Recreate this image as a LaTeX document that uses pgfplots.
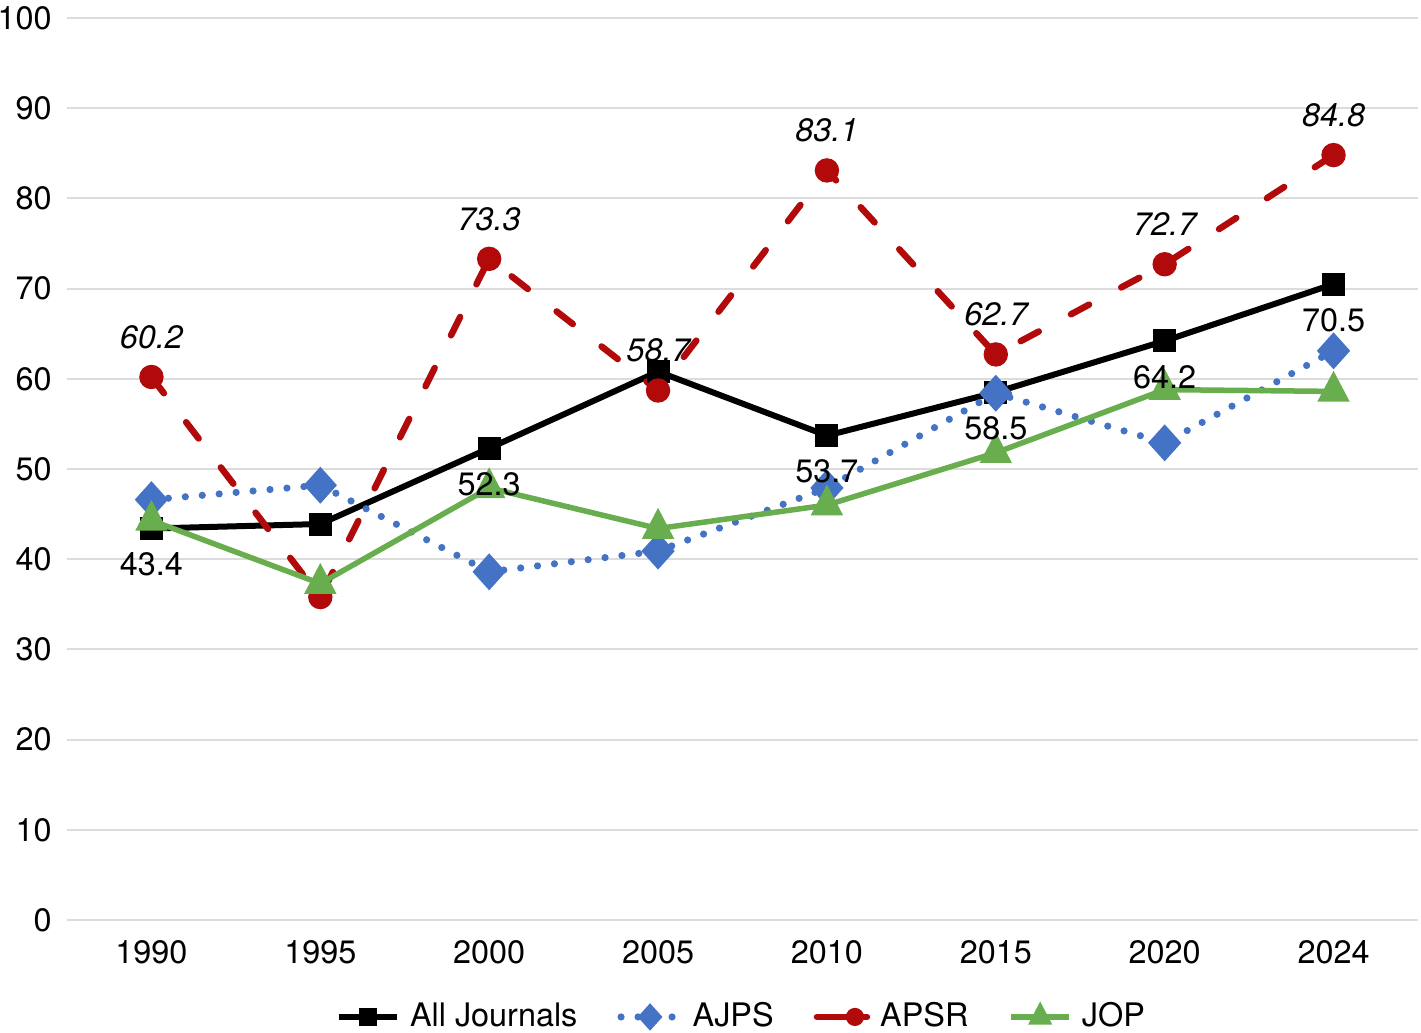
\documentclass[border=0pt]{standalone}
\usepackage{fontspec}
\setmainfont{TeX Gyre Heros}
\usepackage{pgfplots}
\pgfplotsset{compat=1.18}
\definecolor{cBlue}{RGB}{68,114,196}
\definecolor{cRed}{RGB}{178,10,10}
\definecolor{cGreen}{RGB}{104,173,78}
\definecolor{cGrid}{RGB}{220,220,220}
\begin{document}
\fontsize{16.2}{19.4}\selectfont
\begin{tikzpicture}
\begin{axis}[
  at={(0,0)}, anchor=south west,
  scale only axis, width=675.5pt, height=451pt,
  xmin=-0.5, xmax=7.5, ymin=0, ymax=100,
  xtick={0,...,7},
  xticklabels={1990,1995,2000,2005,2010,2015,2020,2024},
  ytick={0,10,...,100},
  axis line style={draw=none},
  major tick length=0pt,
  ymajorgrids, grid style={cGrid, line width=1pt},
  /pgf/number format/assume math mode=true,
  yticklabel style={anchor=east, inner sep=0pt, xshift=-7.5pt},
  xticklabel style={anchor=north, inner sep=0pt, yshift=-10pt},
  legend columns=-1,
  legend style={at={(0.5,-0.1075)}, anchor=center, draw=none, fill=none,
    /tikz/every odd column/.append style={column sep=3pt},
    /tikz/every even column/.append style={column sep=18pt}},
  legend image code/.code={\draw[mark repeat=2, mark phase=2, every mark/.append style={scale=0.72}]
     plot coordinates {(0pt,0pt) (14.5pt,0pt) (29pt,0pt)};},
  clip=false,
]
% All Journals
\addplot[black, line width=3pt, mark=square*, mark size=5.25pt,
  mark options={solid, line width=1pt, fill=black}]
  coordinates {(0,43.4) (1,43.9) (2,52.3) (3,60.8) (4,53.7) (5,58.5) (6,64.2) (7,70.5)};
\addlegendentry{All Journals}
% AJPS
\addplot[cBlue, line width=3.6pt, line cap=round, dash pattern=on 0pt off 8.5pt,
  mark=diamond*, mark size=8.5pt,
  mark options={solid, line width=1pt, fill=cBlue, xscale=1.2}]
  coordinates {(0,46.6) (1,48.2) (2,38.6) (3,40.9) (4,47.9) (5,58.4) (6,52.9) (7,63.1)};
\addlegendentry{AJPS}
% APSR
\addplot[cRed, line width=3.25pt, line cap=round, dash pattern=on 10.25pt off 18.25pt,
  mark=*, mark size=5.6pt,
  mark options={solid, line width=1pt, fill=cRed},
  legend image code/.code={\draw[solid, mark repeat=2, mark phase=2, every mark/.append style={scale=0.72}]
     plot coordinates {(0pt,0pt) (19pt,0pt) (25pt,0pt)};}]
  coordinates {(0,60.2) (1,35.8) (2,73.3) (3,58.7) (4,83.1) (5,62.7) (6,72.7) (7,84.8)};
\addlegendentry{APSR}
% JOP
\addplot[cGreen, line width=2.75pt, mark=triangle*, mark size=8.4pt,
  mark options={solid, line width=1pt, fill=cGreen, yscale=1.1}]
  coordinates {(0,44.3) (1,37.3) (2,47.9) (3,43.4) (4,46.0) (5,51.8) (6,58.8) (7,58.6)};
\addlegendentry{JOP}
% labels APSR
\addplot[draw=none, mark=none, forget plot, nodes near coords, point meta=explicit symbolic,
  every node near coord/.append style={anchor=center, yshift=20pt, inner sep=0pt, font=\itshape, text=black}]
  coordinates {(0,60.2)[60.2] (2,73.3)[73.3] (3,58.7)[58.7] (4,83.1)[83.1] (5,62.7)[62.7] (6,72.7)[72.7] (7,84.8)[84.8]};
% labels All Journals
\addplot[draw=none, mark=none, forget plot, nodes near coords, point meta=explicit symbolic,
  every node near coord/.append style={anchor=center, yshift=-18pt, inner sep=0pt, text=black}]
  coordinates {(0,43.4)[43.4] (2,52.3)[52.3] (4,53.7)[53.7] (5,58.5)[58.5] (6,64.2)[64.2] (7,70.5)[70.5]};
\end{axis}
\pgfresetboundingbox
\path (-33.5pt,-56.5pt) rectangle (677pt,460pt);
\end{tikzpicture}
\end{document}
